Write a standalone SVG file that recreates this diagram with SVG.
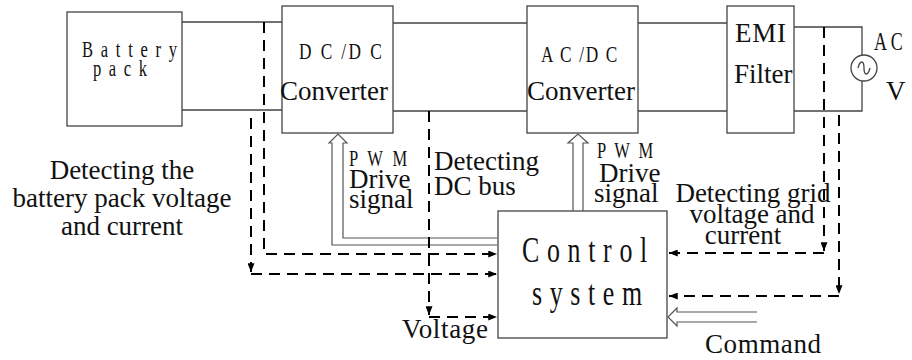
<svg xmlns="http://www.w3.org/2000/svg" width="912" height="360" viewBox="0 0 912 360">
<style>
.box{fill:#fff;stroke:#444;stroke-width:1.3}
.ln{fill:none;stroke:#444;stroke-width:1.3}
.dl{fill:none;stroke:#555;stroke-width:1.2}
.dash{fill:none;stroke:#000;stroke-width:2;stroke-dasharray:11,7}
.t{font-family:"Liberation Serif","Times New Roman",serif;font-size:27px;fill:#111}
.n{font-family:"Liberation Serif","Times New Roman",serif;fill:#111}
</style>
<defs>
<marker id="ah" viewBox="0 0 10 8" refX="10" refY="4" markerWidth="9" markerHeight="7" markerUnits="userSpaceOnUse" orient="auto">
<path d="M0,0 L10,4 L0,8 z" fill="#000"/>
</marker>
</defs>

<g id="battery">
<rect class="box" x="67" y="12" width="115" height="114"/>
<text class="n" font-size="23" transform="translate(82,57) scale(0.72,1)" textLength="132" lengthAdjust="spacing">Battery</text>
<text class="n" font-size="23" transform="translate(93,76) scale(0.72,1)" textLength="75" lengthAdjust="spacing">pack</text>
</g>

<g id="dcdc">
<rect class="box" x="282" y="6" width="111" height="127"/>
<text class="n" font-size="24" transform="translate(299,59) scale(0.72,1)" textLength="115" lengthAdjust="spacing">D C /D C</text>
<text class="t" x="280" y="100">Converter</text>
</g>

<g id="acdc">
<rect class="box" x="527" y="6" width="111" height="127"/>
<text class="n" font-size="24" transform="translate(541,62) scale(0.72,1)" textLength="106" lengthAdjust="spacing">A C /D C</text>
<text class="t" x="527" y="100">Converter</text>
</g>

<g id="emi">
<rect class="box" x="727" y="6" width="67" height="127"/>
<text class="t" x="735" y="42" font-size="26" textLength="51" lengthAdjust="spacing">EMI</text>
<text class="t" x="734" y="83">Filter</text>
</g>

<g id="ac">
<circle cx="864" cy="68" r="13" fill="#fff" stroke="#444" stroke-width="1.3"/>
<path class="ln" d="M858,68 C860,60 864,60 864,68 C864,76 868,76 870,68"/>
<text class="n" font-size="25" transform="translate(874,50) scale(0.72,1)" textLength="40" lengthAdjust="spacing">A C</text>
<text class="t" x="886" y="100">V</text>
</g>

<g id="control">
<rect class="box" x="498" y="211" width="169" height="127"/>
<text class="n" font-size="36" transform="translate(522,262) scale(0.72,1)" textLength="174" lengthAdjust="spacing">Control</text>
<text class="n" font-size="36" transform="translate(532,305) scale(0.72,1)" textLength="153" lengthAdjust="spacing">system</text>
</g>

<g id="connectors">
<path class="ln" d="M182,22 H282 M182,110 H282"/>
<path class="ln" d="M393,23 H527 M393,111 H527"/>
<path class="ln" d="M638,23 H727 M638,111 H727"/>
<path class="ln" d="M794,27 H862 V55 M862,81 V111 H794"/>

<path class="dl" d="M497,245 H332 V143 H329 L338,134 L347,143 H343 V238 H497"/>
<path class="dl" d="M573,211 V143 H568 L578,134 L588,143 H583 V211"/>
<path class="dl" d="M757,312 H677 V308 L668,317 L677,326 V322 H757"/>

<path class="dash" d="M264,22 V254 H497" marker-end="url(#ah)"/>
<path class="dash" d="M251,118 V272" marker-end="url(#ah)"/>
<path class="dash" d="M251,274 H497" marker-end="url(#ah)"/>
<path class="dash" d="M429,111 V315" marker-end="url(#ah)"/>
<path class="dash" d="M429,317 H497" marker-end="url(#ah)"/>
<path class="dash" d="M824,27 V251" marker-end="url(#ah)"/>
<path class="dash" d="M824,253 H669" marker-end="url(#ah)"/>
<path class="dash" d="M839,115 V294" marker-end="url(#ah)"/>
<path class="dash" d="M839,296 H669" marker-end="url(#ah)"/>
</g>

<g id="labels">
<text class="t" x="122" y="179" text-anchor="middle">Detecting the</text>
<text class="t" x="122" y="207" text-anchor="middle">battery pack voltage</text>
<text class="t" x="122" y="235" text-anchor="middle">and current</text>

<text class="n" font-size="23" transform="translate(349,166) scale(0.72,1)" textLength="81" lengthAdjust="spacing">P W M</text>
<text class="t" x="349" y="188">Drive</text>
<text class="t" x="349" y="208">signal</text>

<text class="t" x="434" y="170">Detecting</text>
<text class="t" x="434" y="195">DC bus</text>

<text class="n" font-size="23" transform="translate(597,158) scale(0.72,1)" textLength="78" lengthAdjust="spacing">P W M</text>
<text class="t" x="599" y="182">Drive</text>
<text class="t" x="594" y="202">signal</text>

<text class="t" x="753" y="202" text-anchor="middle">Detecting grid</text>
<text class="t" x="752" y="223" text-anchor="middle">voltage and</text>
<text class="t" x="743" y="244" text-anchor="middle">current</text>

<text class="t" x="402" y="338" textLength="86" lengthAdjust="spacing">Voltage</text>
<text class="t" x="705" y="353" textLength="116" lengthAdjust="spacing">Command</text>
</g>
</svg>
